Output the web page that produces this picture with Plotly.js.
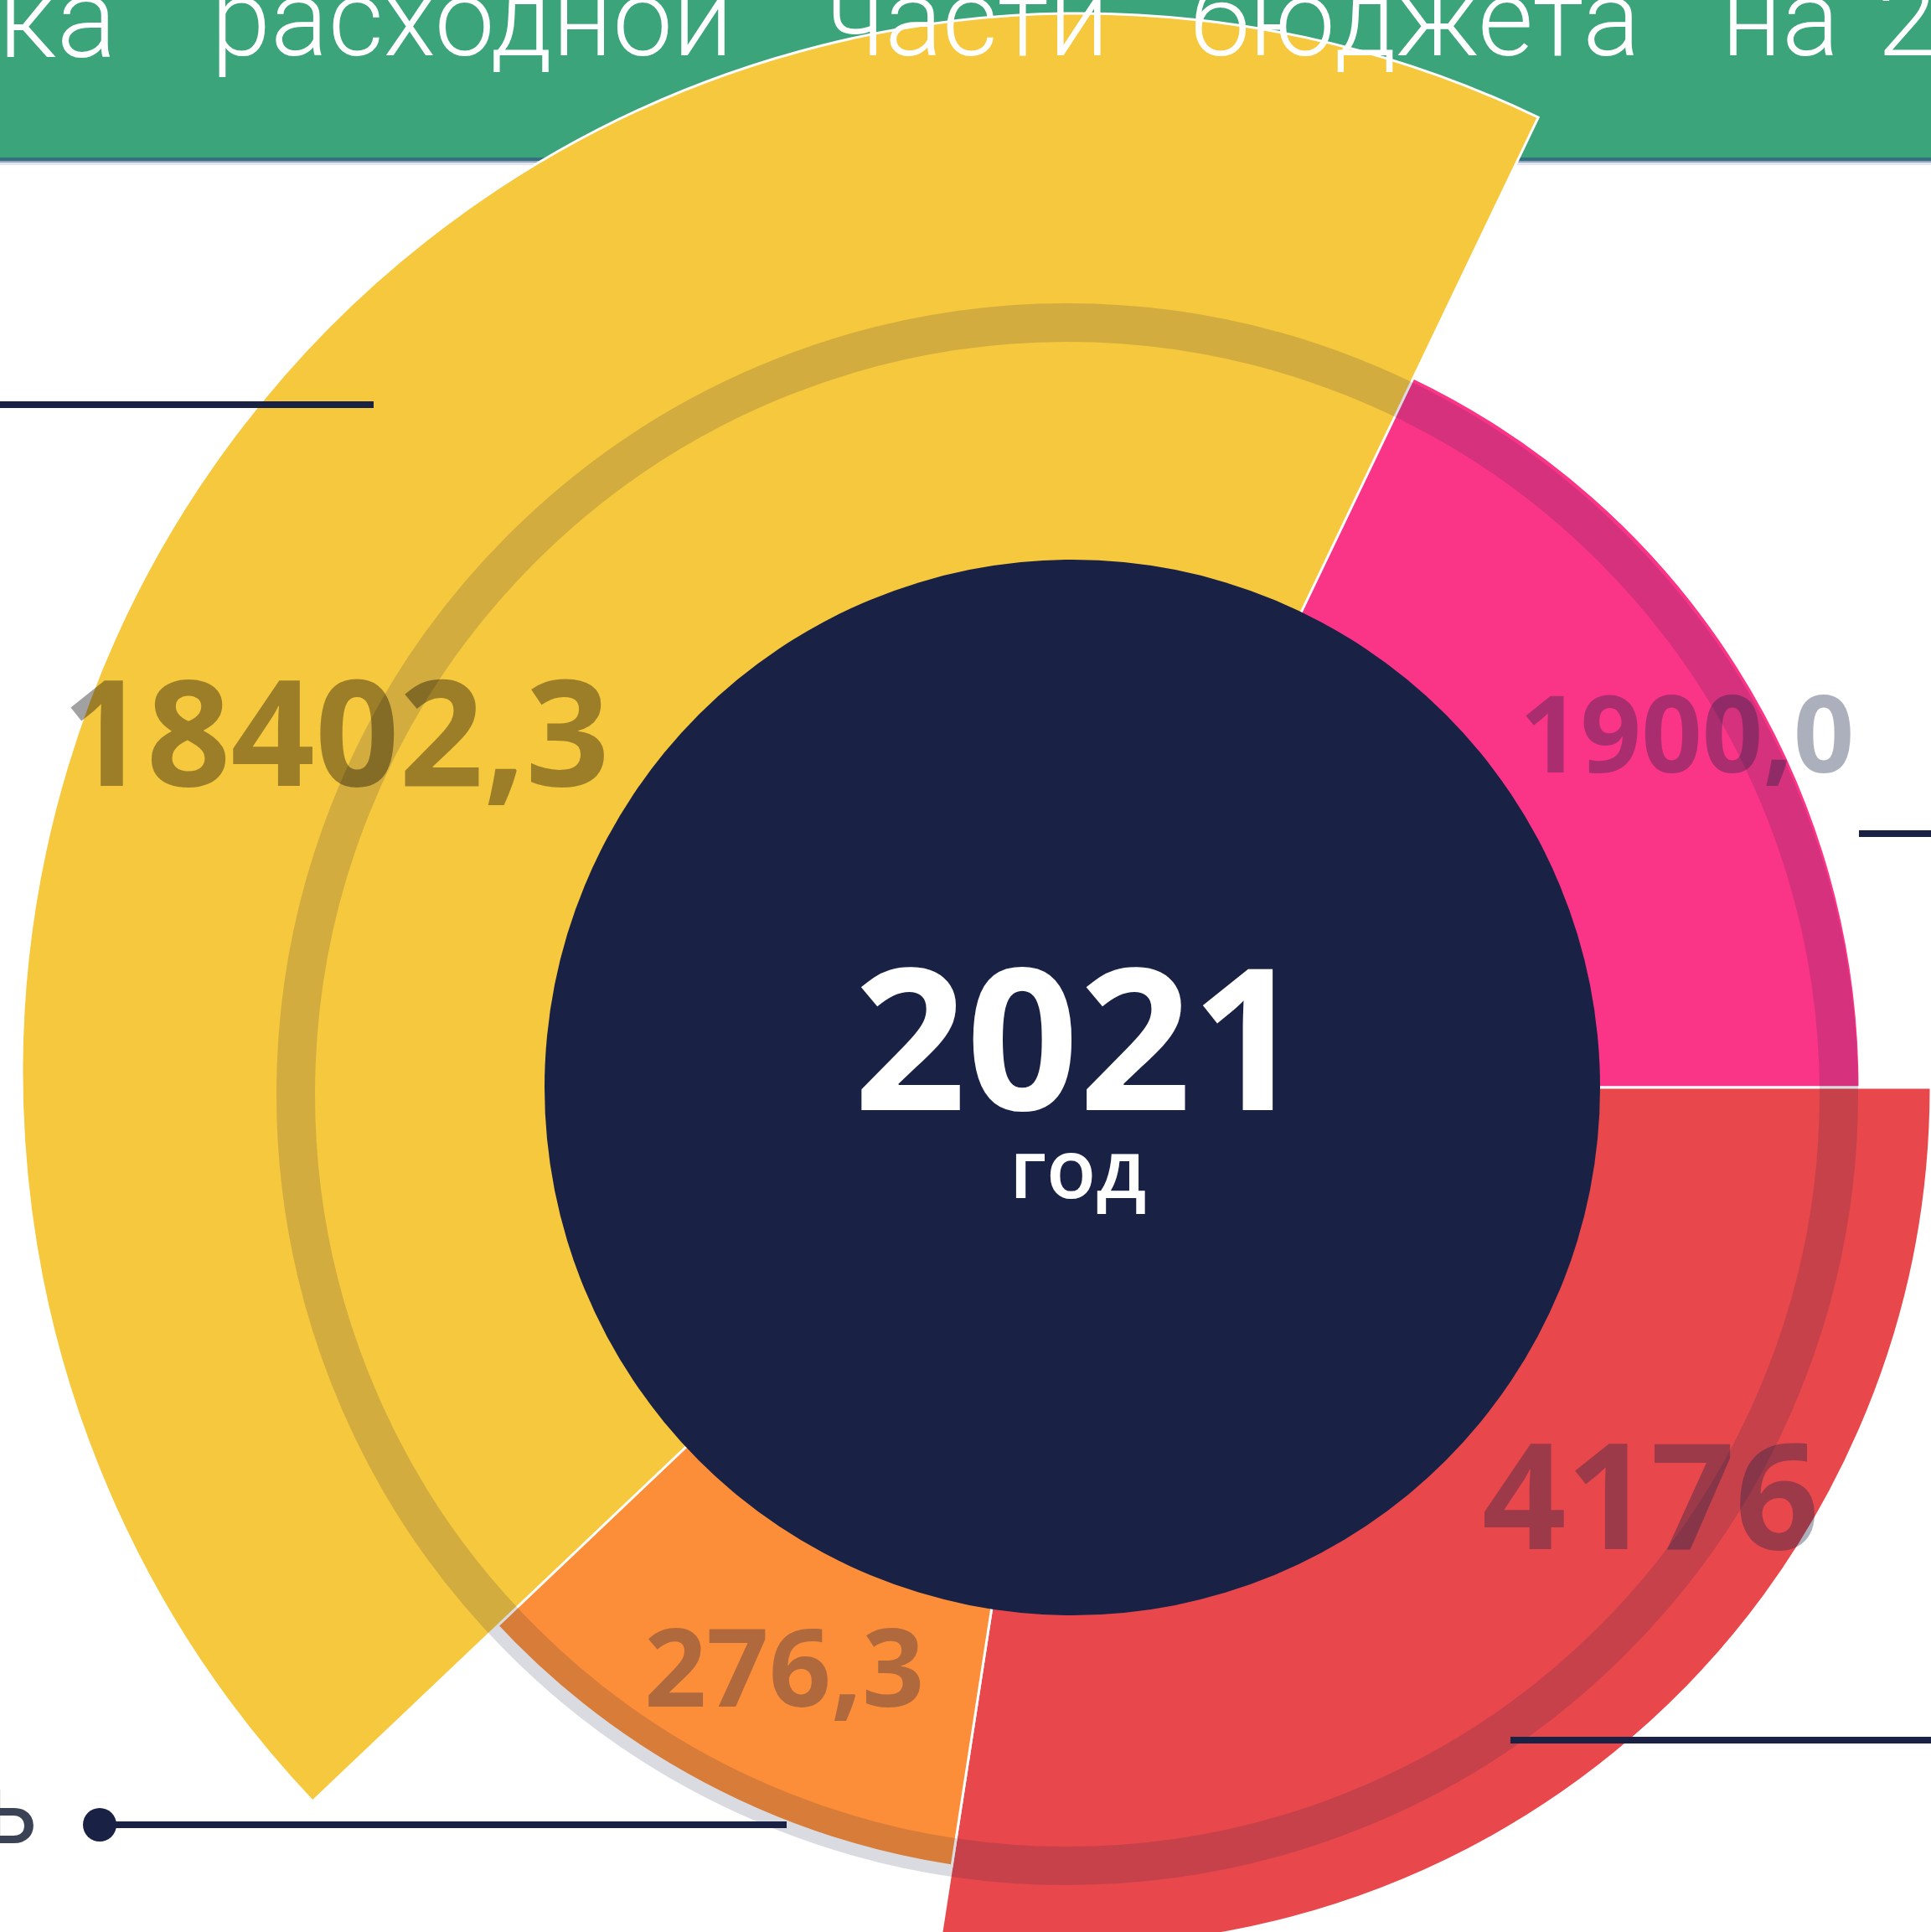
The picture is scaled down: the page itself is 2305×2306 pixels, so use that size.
<!DOCTYPE html>
<html><head><meta charset="utf-8">
<script src="https://cdn.plot.ly/plotly-3.0.1.min.js"></script>
<style>
html,body{margin:0;padding:0;width:2305px;height:2306px;overflow:hidden;background:#fff;}
#chart{position:absolute;left:-40px;top:-22px;width:2640px;height:2640px;}
</style></head><body><div id="chart"></div>
<script>
// ---- data ----
const valueLabels = ['18402,3', '1900,0', '4176', '276,3'];
const values = [18402.3, 1900.0, 4176, 276.3];
const arcStartDeg = [226.5, 25.6, 90.0, 188.8];   // clockwise from north
const arcSpanDeg = [159.1, 64.4, 98.8, 38.6];
const outerRadius = [1264, 940, 1025, 940];
const centerYear = '2021';
const centerUnit = 'год';
const headerWords = ['ка', 'расходной', 'части', 'бюджета', 'на', '2021', 'год'];
const sideText = 'ь';

// ---- styles / layout helpers ----
const sectorColors = ['#F6C83E', '#FA3587', '#E8484C', '#FD8E39'];
const labelColors = ['rgba(0,0,0,0.37)', 'rgba(24,34,69,0.36)', 'rgba(24,34,69,0.36)', 'rgba(24,34,69,0.34)'];
const labelSizes = [176, 127, 176, 130];
const labelPos = [[401, 870], [2013, 872], [1970, 1781], [936, 1986]];
const headerX = [-4, 563, 1156, 1689, 2125, 2239, 2700];
const headerAnchor = ['left', 'center', 'center', 'center', 'center', 'left', 'left'];
const NAVY = '#192245';

const W = 2640, OX = 40, OY = 22;
const px = v => (v + OX) / W;
const py = v => 1 - (v + OY) / W;
const R = 1300;
function dom(cx, cy) { return {x: [px(cx - R), px(cx + R)], y: [py(cy + R), py(cy - R)]}; }

const traces = valueLabels.map((lab, i) => ({
  type: 'barpolar',
  subplot: i === 0 ? 'polar2' : 'polar',
  name: lab,
  r: [outerRadius[i]],
  theta: [arcStartDeg[i] + arcSpanDeg[i] / 2],
  width: [arcSpanDeg[i]],
  customdata: [values[i]],
  marker: {color: sectorColors[i], line: {color: '#ffffff', width: 3}},
  hoverinfo: 'skip',
  showlegend: false
}));

function polarCfg(cx, cy) {
  return {
    domain: dom(cx, cy),
    bgcolor: 'rgba(0,0,0,0)',
    hole: 0,
    angularaxis: {rotation: 90, direction: 'clockwise', visible: false, showgrid: false, showline: false, showticklabels: false, ticks: ''},
    radialaxis: {range: [0, R], visible: false, showgrid: false, showline: false, showticklabels: false, ticks: ''}
  };
}

const shapes = [
  {type: 'rect', layer: 'below', xref: 'paper', yref: 'paper', x0: 0, x1: 1, y0: py(188), y1: py(-22), fillcolor: '#3CA47B', line: {width: 0}},
  {type: 'rect', layer: 'below', xref: 'paper', yref: 'paper', x0: 0, x1: 1, y0: py(192.5), y1: py(188), fillcolor: '#35707F', line: {width: 0}},
  {type: 'rect', layer: 'below', xref: 'paper', yref: 'paper', x0: 0, x1: 1, y0: py(194), y1: py(192.5), fillcolor: '#8FA1BD', line: {width: 0}},
  {type: 'rect', layer: 'below', xref: 'paper', yref: 'paper', x0: 0, x1: 1, y0: py(197), y1: py(194), fillcolor: '#E3E6EE', line: {width: 0}},
  {type: 'circle', layer: 'above', xref: 'paper', yref: 'paper', x0: px(1274 - 921), x1: px(1274 + 921), y0: py(1306 + 921), y1: py(1306 - 921), fillcolor: 'rgba(0,0,0,0)', line: {color: 'rgba(24,34,69,0.16)', width: 46}},
  {type: 'circle', layer: 'above', xref: 'paper', yref: 'paper', x0: px(650), x1: px(1910), y0: py(1928), y1: py(668), fillcolor: NAVY, line: {width: 0}},
  {type: 'line', layer: 'above', xref: 'paper', yref: 'paper', x0: px(-40), x1: px(446), y0: py(483), y1: py(483), line: {color: NAVY, width: 8}},
  {type: 'line', layer: 'above', xref: 'paper', yref: 'paper', x0: px(2219), x1: px(2350), y0: py(995), y1: py(995), line: {color: NAVY, width: 8}},
  {type: 'line', layer: 'above', xref: 'paper', yref: 'paper', x0: px(1803), x1: px(2350), y0: py(2077), y1: py(2077), line: {color: NAVY, width: 8}},
  {type: 'line', layer: 'above', xref: 'paper', yref: 'paper', x0: px(119), x1: px(939), y0: py(2178), y1: py(2178), line: {color: NAVY, width: 8}},
  {type: 'circle', layer: 'above', xref: 'paper', yref: 'paper', x0: px(99), x1: px(139), y0: py(2198), y1: py(2158), fillcolor: NAVY, line: {width: 0}}
];

const annotations = [];
headerWords.forEach((w, i) => annotations.push({
  text: w, xref: 'paper', yref: 'paper', x: px(headerX[i]), y: py(22), xanchor: headerAnchor[i], yanchor: 'middle',
  showarrow: false, font: {family: 'Roboto', weight: 300, size: i === 0 ? 134 : 128, color: '#ffffff'}
}));
valueLabels.forEach((lab, i) => annotations.push({
  text: lab, xref: 'paper', yref: 'paper', x: px(labelPos[i][0]), y: py(labelPos[i][1]), xanchor: 'center', yanchor: 'middle',
  showarrow: false, font: {family: 'Open Sans', weight: 700, size: labelSizes[i], color: labelColors[i]}
}));
annotations.push({text: centerYear, xref: 'paper', yref: 'paper', x: px(1287), y: py(1234), xanchor: 'center', yanchor: 'middle',
  height: 190, valign: 'middle',
  showarrow: false, font: {family: 'Open Sans', weight: 700, size: 235, color: '#ffffff'}});
annotations.push({text: centerUnit, xref: 'paper', yref: 'paper', x: px(1286), y: py(1392), xanchor: 'center', yanchor: 'middle',
  height: 114, valign: 'middle',
  showarrow: false, font: {family: 'Open Sans', weight: 600, size: 97, color: '#ffffff'}});
annotations.push({text: sideText, xref: 'paper', yref: 'paper', x: px(47), y: py(2159), xanchor: 'right', yanchor: 'middle',
  showarrow: false, font: {family: 'Roboto', weight: 400, size: 120, color: '#3A4356'}});

const layout = {
  width: W, height: W,
  margin: {l: 0, r: 0, t: 0, b: 0, pad: 0},
  paper_bgcolor: '#ffffff',
  showlegend: false,
  polar: polarCfg(1280, 1298),
  polar2: polarCfg(1290, 1280),
  shapes: shapes,
  annotations: annotations
};

Plotly.newPlot('chart', traces, layout, {staticPlot: true, displayModeBar: false});
</script></body></html>
